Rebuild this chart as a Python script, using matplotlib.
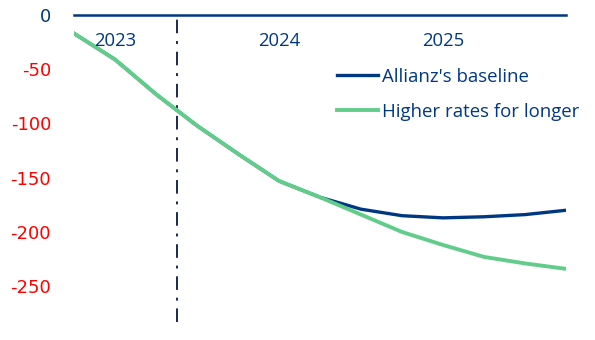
import numpy as np
import matplotlib.pyplot as plt

# Quarterly path, Q4 2022 .. Q4 2025
quarters = ["Q4-22", "Q1-23", "Q2-23", "Q3-23", "Q4-23", "Q1-24", "Q2-24",
            "Q3-24", "Q4-24", "Q1-25", "Q2-25", "Q3-25", "Q4-25"]
baseline = [-17, -41, -73, -102, -128, -153, -168, -179, -185, -187, -186, -184, -180]
higher_rates = [-17, -41, -73, -102, -128, -153, -168, -184, -200, -212, -223, -229, -234]
year_labels = ["2023", "2024", "2025"]
year_pos = [1, 5, 9]
forecast_start = 2.5

navy = "#003781"
green = "#62CD8B"

fig = plt.figure(figsize=(5.95, 3.40), dpi=100)
ax = fig.add_axes([74 / 595, 1 - 322 / 340, 492 / 595, 307 / 340])

x = np.arange(len(quarters))
ax.plot(x, baseline, color=navy, lw=2.4, label="Allianz's baseline", zorder=2)
ax.plot(x, higher_rates, color=green, lw=2.8, label="Higher rates for longer", zorder=3)

ax.axvline(forecast_start, color="#1b2a4a", lw=1.4, dashes=(7, 4, 1.5, 4))

ax.set_xlim(0, len(quarters) - 1)
ax.set_ylim(-283, 0)

for s in ["left", "right", "bottom"]:
    ax.spines[s].set_visible(False)
ax.spines["top"].set_color(navy)
ax.spines["top"].set_linewidth(1.8)

ax.set_xticks([])
ax.set_yticks([0, -50, -100, -150, -200, -250])
ax.set_yticklabels(["0", "-50", "-100", "-150", "-200", "-250"], fontsize=13,
                   family="DejaVu Sans")
ax.tick_params(axis="y", length=0, pad=16.5)
for t in ax.get_yticklabels():
    t.set_color(navy if t.get_text() == "0" else "#ff0000")

for lbl, p in zip(year_labels, year_pos):
    ax.text(p, -24, lbl, ha="center", va="center", fontsize=13.3, color=navy,
            family="Open Sans")

leg = ax.legend(loc="upper left", bbox_to_anchor=(337 / 595, 1 - 68 / 340),
                bbox_transform=fig.transFigure, frameon=False, handlelength=2.2,
                handletextpad=0.2, labelspacing=0.9, borderaxespad=0, borderpad=0,
                prop={"family": "Open Sans", "size": 13.4})
for t in leg.get_texts():
    t.set_color(navy)

fig.savefig("out.png", dpi=100)
